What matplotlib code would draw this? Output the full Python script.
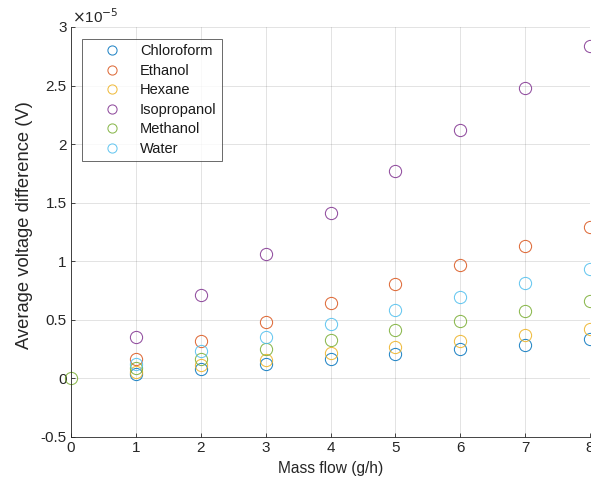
import matplotlib
matplotlib.use("Agg")
import matplotlib.pyplot as plt
from matplotlib.ticker import FixedLocator

plt.rcParams['font.family'] = ['Liberation Sans', 'DejaVu Sans']

mass_flow = [1, 2, 3, 4, 5, 6, 7, 8]
methanol_x = [0, 1, 2, 3, 4, 5, 6, 7, 8]

chloroform = [0.037, 0.079, 0.122, 0.164, 0.207, 0.249, 0.289, 0.334]
ethanol = [0.164, 0.321, 0.485, 0.647, 0.808, 0.970, 1.134, 1.294]
hexane = [0.056, 0.113, 0.158, 0.215, 0.269, 0.320, 0.369, 0.425]
isopropanol = [0.357, 0.709, 1.066, 1.415, 1.773, 2.125, 2.480, 2.840]
methanol = [0.0, 0.085, 0.164, 0.249, 0.329, 0.411, 0.494, 0.573, 0.658]
water = [0.122, 0.232, 0.351, 0.465, 0.581, 0.695, 0.817, 0.930]

series = [
    ("Chloroform", mass_flow, chloroform, (0.0, 0.447, 0.741)),
    ("Ethanol", mass_flow, ethanol, (0.850, 0.325, 0.098)),
    ("Hexane", mass_flow, hexane, (0.929, 0.694, 0.125)),
    ("Isopropanol", mass_flow, isopropanol, (0.494, 0.184, 0.556)),
    ("Methanol", methanol_x, methanol, (0.466, 0.674, 0.188)),
    ("Water", mass_flow, water, (0.301, 0.745, 0.933)),
]

x_ticks = [0, 1, 2, 3, 4, 5, 6, 7, 8]
y_ticks = [-0.5, 0, 0.5, 1, 1.5, 2, 2.5, 3]
y_labels = ["-0.5", "0", "0.5", "1", "1.5", "2", "2.5", "3"]

fig = plt.figure(figsize=(5.91, 4.92), dpi=100)
ax = fig.add_axes([71/591, 55/492, 519/591, 410/492])

for name, xs, ys, col in series:
    ax.plot([x for x in xs], [y * 1e-5 for y in ys], linestyle='none', marker='o',
            markersize=8.8, markerfacecolor='none', markeredgecolor=col,
            markeredgewidth=0.75, label=name, clip_on=False, alpha=0.85)

ax.set_xlim(0, 8)
ax.set_ylim(-0.5e-5, 3e-5)
ax.xaxis.set_major_locator(FixedLocator(x_ticks))
ax.yaxis.set_major_locator(FixedLocator([v * 1e-5 for v in y_ticks]))
ax.set_xticklabels([str(v) for v in x_ticks])
ax.set_yticklabels(y_labels)

ax.grid(True, color=(0.15, 0.15, 0.15), alpha=0.15, linewidth=0.6)
ax.set_axisbelow(True)
for s in ['top', 'right']:
    ax.spines[s].set_visible(False)
for s in ['left', 'bottom']:
    ax.spines[s].set_color((0.15, 0.15, 0.15))
    ax.spines[s].set_linewidth(0.6)
ax.tick_params(direction='in', length=3, width=0.6, color=(0.15, 0.15, 0.15),
               labelcolor=(0.15, 0.15, 0.15), labelsize=11, pad=3)

ax.set_xlabel("Mass flow (g/h)", fontsize=11.2, color=(0.15, 0.15, 0.15), labelpad=4)
ax.set_ylabel("Average voltage difference (V)", fontsize=13.2, color=(0.15, 0.15, 0.15), labelpad=5.5)
ax.yaxis.label.set_y(0.517)

fig.text(72/591, 1 - 17/492, r"$\times$10$^{-5}$", fontsize=11, color=(0.15, 0.15, 0.15),
         ha='left', va='center')

leg = ax.legend(loc='upper left', bbox_to_anchor=(11/519, 1 - 12/410), fontsize=10.5,
                frameon=True, fancybox=False, edgecolor=(0.15, 0.15, 0.15),
                borderpad=0.35, labelspacing=0.38, handletextpad=0.25, handlelength=3.37,
                borderaxespad=0, markerscale=0.75)
leg.get_frame().set_linewidth(0.6)
for t in leg.get_texts():
    t.set_color((0.1, 0.1, 0.1))

fig.savefig("out.png", dpi=100)
